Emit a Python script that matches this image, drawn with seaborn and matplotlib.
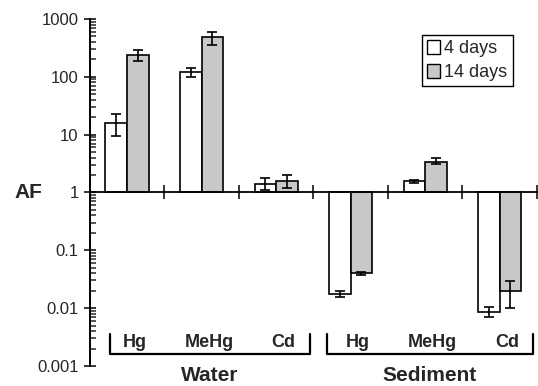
import numpy as np
import pandas as pd
import matplotlib.pyplot as plt
import seaborn as sns
from matplotlib.patches import Patch

# values (AF, log axis)
groups = ["Water", "Water", "Water", "Sediment", "Sediment", "Sediment"]
metals = ["Hg", "MeHg", "Cd", "Hg", "MeHg", "Cd"]
af_4d = [16, 119, 1.42, 0.0172, 1.55, 0.0084]
lo_4d = [9.5, 100, 1.1, 0.0155, 1.47, 0.0069]
hi_4d = [23, 140, 1.75, 0.0195, 1.65, 0.0105]
af_14d = [235, 480, 1.55, 0.040, 3.4, 0.0195]
lo_14d = [185, 360, 1.2, 0.038, 3.1, 0.0100]
hi_14d = [285, 590, 2.0, 0.042, 3.9, 0.029]
series = ["4 days", "14 days"]
colors = ["white", "#c8c8c8"]

sns.set_style("white")
plt.rcParams["font.family"] = ["Liberation Sans", "DejaVu Sans"]

cats = [f"{g} {m}" for g, m in zip(groups, metals)]
df = pd.DataFrame({
    "cat": cats * 2,
    "series": [series[0]] * 6 + [series[1]] * 6,
    "logaf": np.log10(af_4d + af_14d),
})

fig = plt.figure(figsize=(5.38, 3.86), dpi=100)
ax = fig.add_axes([0.167, 0.052, 0.831, 0.899])

sns.barplot(data=df, x="cat", y="logaf", hue="series", order=cats,
            hue_order=series, palette=colors, width=0.58, gap=0,
            edgecolor="black", linewidth=1.2, errorbar=None, legend=False, ax=ax)

# error bars in log space
err = [(af_4d, lo_4d, hi_4d), (af_14d, lo_14d, hi_14d)]
for cont, (v, lo, hi) in zip(ax.containers, err):
    xs = [b.get_x() + b.get_width() / 2 for b in cont]
    lv = np.log10(v)
    yerr = [lv - np.log10(lo), np.log10(hi) - lv]
    ax.errorbar(xs, lv, yerr=yerr, fmt="none", ecolor="black",
                elinewidth=1.2, capsize=3.5, capthick=1.2, zorder=5)

ax.set_xlim(-0.5, 5.5)
ax.set_ylim(-3, 3)
ax.set_xlabel("")
ax.set_ylabel("")

# y axis: decades with minor ticks
ax.set_yticks(range(-3, 4))
ax.set_yticklabels(["0.001", "0.01", "0.1", "1", "10", "100", "1000"], fontsize=12)
minor = [np.log10(m * 10.0 ** k) for k in range(-3, 3) for m in range(2, 10)]
ax.set_yticks(minor, minor=True)
ax.tick_params(axis="y", which="major", direction="inout", length=9, width=1.3, left=True)
ax.tick_params(axis="y", which="minor", direction="in", length=4, width=1.1, left=True)

# baseline at AF = 1 acts as x axis
for s in ["top", "right"]:
    ax.spines[s].set_visible(False)
ax.spines["left"].set_linewidth(1.4)
ax.spines["left"].set_color("black")
ax.spines["bottom"].set_position(("data", 0))
ax.spines["bottom"].set_linewidth(1.3)
ax.spines["bottom"].set_color("black")
ax.set_xticks([0.5, 1.5, 2.5, 3.5, 4.5, 5.5])
ax.set_xticklabels([])
ax.tick_params(axis="x", direction="inout", length=10, width=1.3, bottom=True)

ax.text(-0.107, 0.5, "AF", transform=ax.transAxes, fontsize=15,
        fontweight="bold", ha="right", va="center")

# bracket labels under the bars
for x, m in enumerate(metals):
    ax.text(x + 0.1, -2.6, m, fontsize=13, fontweight="bold",
            ha="center", va="center")
for x0, x1, name in [(-0.23, 2.45, "Water"), (2.68, 5.45, "Sediment")]:
    ax.plot([x0, x0, x1, x1], [-2.44, -2.79, -2.79, -2.44], color="black",
            lw=1.6, clip_on=False)
    ax.text((x0 + x1) / 2, -3.16, name, fontsize=15, fontweight="bold",
            ha="center", va="center", clip_on=False)

handles = [Patch(facecolor=c, edgecolor="black", label=s) for c, s in zip(colors, series)]
leg = ax.legend(handles=handles, loc="upper right", bbox_to_anchor=(0.946, 0.954),
                borderaxespad=0, fontsize=13, fancybox=False, framealpha=1,
                edgecolor="black", handlelength=0.7, handleheight=0.8,
                handletextpad=0.25, borderpad=0.3, labelspacing=0.35)
leg.get_frame().set_linewidth(1.0)

fig.savefig("out.png", dpi=100)
